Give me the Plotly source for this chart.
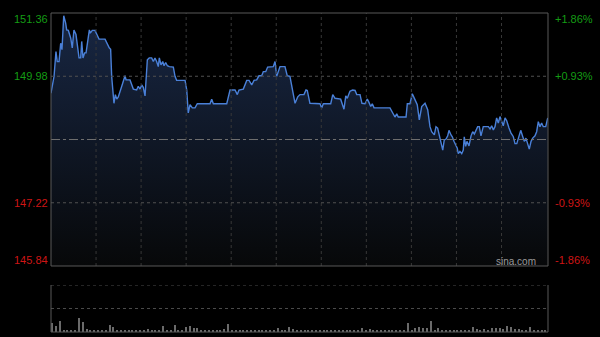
import plotly.graph_objects as go

# ---------------- data ----------------
times = [0, 2.4, 3.9, 4.9, 6.3, 7.6, 8.6, 10.0, 11.5, 12.3, 13.6, 15.5, 16.7, 18.0, 19.6, 20.6, 22.0, 23.3,
         24.1, 25.1, 26.4, 27.5, 28.8, 30.1, 30.8, 32.4, 34.5, 36.3, 37.7, 42.4, 43.7, 45.7, 46.8, 47.6,
         49.4, 50.5, 51.6, 52.8, 55.5, 58.1, 58.9, 62.0, 64.6, 67.2, 68.5, 69.9, 71.2, 72.4, 73.8, 75.6,
         77.1, 79.0, 80.3, 81.6, 82.9, 84.2, 85.0, 86.3, 87.7, 88.7, 90.0, 91.3, 92.8, 96.0, 97.3, 98.6,
         105.2, 106.5, 107.7, 109.1, 110.9, 113.0, 114.8, 124.8, 126.1, 127.4, 137.9, 140.5, 144.4, 146.2,
         147.5, 150.9, 153.6, 155.4, 157.5, 159.3, 161.4, 163.2, 165.3, 166.6, 168.5, 170.0, 174.4, 175.8,
         177.1, 179.7, 183.6, 185.4, 187.5, 189.3, 191.5, 193.6, 195.4, 198.5, 200.1, 201.1, 203.2, 211.1,
         212.4, 213.7, 219.5, 221.1, 222.9, 227.3, 228.9, 229.9, 231.3, 232.5, 234.6, 236.7, 238.6, 239.9,
         242.5, 244.0, 246.4, 248.2, 249.5, 250.9, 252.1, 253.5, 266.0, 268.1, 269.9, 271.3, 272.5, 278.6,
         279.6, 281.7, 283.5, 285.6, 287.4, 289.0, 290.9, 293.5, 295.6, 297.4, 298.7, 300.8, 302.1, 303.4,
         305.2, 306.0, 307.4, 308.6, 310.0, 311.3, 312.3, 313.9, 314.9, 316.2, 317.6, 318.8, 319.6, 320.9,
         322.3, 323.5, 324.3, 325.4, 326.4, 328.0, 329.6, 330.9, 332.2, 333.5, 334.8, 336.1, 337.4, 339.2,
         343.2, 344.5, 345.8, 347.1, 348.4, 349.7, 351.0, 352.3, 353.7, 354.9, 356.3, 357.6, 359.4, 361.0,
         362.8, 364.1, 365.5, 366.7, 368.6, 370.2, 371.4, 372.7, 374.1, 375.3, 376.7, 378.0, 379.8, 381.1,
         382.4, 383.7, 385.0, 386.3, 388.2, 389.8]

prices = [149.61, 149.98, 150.52, 150.30, 150.30, 150.70, 150.56, 151.30, 151.14, 150.99, 150.98, 150.81,
          150.60, 150.99, 150.89, 150.70, 150.38, 150.38, 150.74, 150.38, 150.49, 150.49, 150.74, 150.99,
          150.92, 150.98, 150.98, 150.89, 150.79, 150.79, 150.70, 150.60, 150.57, 149.98, 149.39, 149.58,
          149.48, 149.53, 149.76, 149.99, 149.90, 149.90, 149.70, 149.68, 149.76, 149.70, 149.79, 149.74,
          149.55, 150.34, 150.38, 150.38, 150.30, 150.38, 150.30, 150.19, 150.38, 150.23, 150.30, 150.21,
          150.28, 150.21, 150.19, 150.18, 149.98, 149.89, 149.89, 149.68, 149.18, 149.36, 149.29, 149.29,
          149.38, 149.38, 149.48, 149.38, 149.38, 149.68, 149.68, 149.58, 149.68, 149.70, 149.89, 149.89,
          149.79, 149.89, 149.90, 149.99, 149.99, 150.08, 150.08, 150.18, 150.19, 150.30, 149.98, 150.19,
          150.19, 149.99, 149.98, 149.68, 149.39, 149.53, 149.58, 149.58, 149.68, 149.67, 149.39, 149.38,
          149.29, 149.38, 149.38, 149.58, 149.50, 149.48, 149.36, 149.26, 149.55, 149.50, 149.65, 149.68,
          149.67, 149.58, 149.58, 149.39, 149.38, 149.48, 149.41, 149.32, 149.38, 149.29, 149.29, 149.18,
          149.09, 149.16, 149.09, 149.09, 149.38, 149.38, 149.60, 149.47, 149.36, 149.03, 149.32, 149.39,
          149.25, 148.88, 148.77, 148.70, 148.88, 148.85, 148.63, 148.59, 148.37, 148.59, 148.61, 148.68,
          148.80, 148.70, 148.66, 148.56, 148.48, 148.41, 148.29, 148.34, 148.29, 148.37, 148.66, 148.45,
          148.56, 148.46, 148.68, 148.77, 148.72, 148.81, 148.88, 148.88, 148.68, 148.88, 148.88, 148.83,
          148.90, 148.81, 148.88, 149.07, 148.96, 149.10, 148.97, 148.90, 149.07, 149.01, 148.85, 148.74,
          148.66, 148.51, 148.51, 148.61, 148.80, 148.66, 148.56, 148.63, 148.52, 148.39, 148.56, 148.63,
          148.68, 148.77, 148.99, 148.88, 148.96, 148.88, 148.88, 149.07]

# volume, one value per 3-minute bucket
volume = [11500, 8000, 14000, 2000, 1500, 2500, 1800, 18000, 12800, 3800,
          2000, 1800, 2200, 1500, 2000, 9000, 6400, 1800, 1500, 2000,
          1400, 1600, 1800, 1500, 2200, 3800, 2500, 3000, 1500, 7700,
          1800, 1500, 9000, 1800, 1500, 6400, 7700, 5500, 5500, 1800,
          1500, 1600, 1400, 1800, 1500, 3800, 10200, 1800, 1500, 1400,
          1600, 1800, 1500, 1400, 1600, 1500, 1800, 1400, 1500, 5100,
          1800, 1500, 6400, 3800, 1500, 1400, 1300, 2500, 1400, 1300,
          2500, 1400, 1300, 2500, 1400, 1300, 1500, 1400, 1300, 1500,
          1400, 5100, 1500, 3800, 1400, 1300, 1500, 1400, 1300, 1500,
          1400, 1300, 1600, 11500, 1800, 5100, 6400, 5100, 5100, 14000,
          2500, 5100, 2500, 2200, 2500, 2000, 2500, 2200, 2000, 1800,
          6400, 3800, 2500, 3800, 2000, 5100, 5100, 5100, 3800, 7700,
          6400, 3800, 3800, 2000, 2500, 6400, 2500, 2500, 2500, 2000]
volume_times = [3 * k + 1 for k in range(len(volume))]

prev_close = 148.60
price_ticks = [151.36, 149.98, 147.22, 145.84]
pct_labels = ["+1.86%", "+0.93%", "-0.93%", "-1.86%"]
vol_max = 60000

# ---------------- figure ----------------
GREEN = "#149c14"
RED = "#cf1515"
FONT = "Liberation Sans, Arial, sans-serif"
main_bottom = 0.2069
vol_top = 0.1473

fig = go.Figure()
fig.add_trace(go.Scatter(
    x=times, y=prices, mode="lines",
    line=dict(color="#4a80d8", width=1.4),
    fill="tozeroy",
    fillgradient=dict(type="vertical",
                      colorscale=[[0, "#070809"], [1, "#182744"]],
                      start=145.84, stop=151.36),
    hoverinfo="skip", xaxis="x", yaxis="y"))

fig.add_trace(go.Bar(
    x=volume_times, y=volume, width=0.9,
    marker=dict(color="#6a6a6a", line=dict(width=0)),
    hoverinfo="skip", xaxis="x2", yaxis="y2"))

fig.update_layout(
    width=600, height=337,
    margin=dict(l=51, r=52, t=13, b=5),
    paper_bgcolor="black", plot_bgcolor="black",
    showlegend=False,
    bargap=0,
    xaxis=dict(domain=[0, 1], range=[0, 390], showgrid=False, zeroline=False,
               showticklabels=False, showline=False, anchor="y"),
    yaxis=dict(domain=[main_bottom, 1], range=[145.84, 151.36], showgrid=False,
               zeroline=False, showticklabels=False, anchor="x"),
    xaxis2=dict(domain=[0, 1], range=[0, 390], showgrid=False, zeroline=False,
                showticklabels=False, anchor="y2"),
    yaxis2=dict(domain=[0, vol_top], range=[0, vol_max], showgrid=False,
                zeroline=False, showticklabels=False, anchor="x2"),
)

shapes = []
# vertical dotted gridlines in main panel
step = 35.35
for i in range(1, 11):
    shapes.append(dict(type="line", xref="x", yref="paper", x0=i * step, x1=i * step,
                       y0=main_bottom, y1=1, line=dict(color="#383838", width=1, dash="dot"),
                       layer="above"))
# horizontal dotted gridlines
for v in [149.98, 147.22]:
    shapes.append(dict(type="line", xref="paper", yref="y", x0=0, x1=1, y0=v, y1=v,
                       line=dict(color="#505050", width=1, dash="dot"), layer="above"))
# previous close line
shapes.append(dict(type="line", xref="paper", yref="y", x0=0, x1=1, y0=prev_close, y1=prev_close,
                   line=dict(color="#6e6e6e", width=1, dash="dashdot"), layer="above"))
# main border
shapes.append(dict(type="rect", xref="paper", yref="paper", x0=0, x1=1, y0=main_bottom, y1=1,
                   line=dict(color="#595959", width=1), layer="above"))
# volume panel
for yv in [vol_max, vol_max / 2]:
    shapes.append(dict(type="line", xref="paper", yref="y2", x0=0, x1=1, y0=yv, y1=yv,
                       line=dict(color="#4a4a4a", width=1, dash="dot"), layer="above"))
for xv in [0, 1]:
    shapes.append(dict(type="line", xref="paper", yref="paper", x0=xv, x1=xv, y0=0, y1=vol_top,
                       line=dict(color="#595959", width=1), layer="above"))
shapes.append(dict(type="line", xref="paper", yref="paper", x0=0, x1=1, y0=0, y1=0,
                   line=dict(color="#595959", width=1), layer="above"))
fig.update_layout(shapes=shapes)

annotations = []
shifts = [-6, 0, 0, 6]
for v, pct, s in zip(price_ticks, pct_labels, shifts):
    col = GREEN if v > prev_close else RED
    annotations.append(dict(xref="paper", yref="y", x=-0.002, y=v, yshift=s, text=f"{v:.2f}",
                            showarrow=False, xanchor="right", yanchor="middle",
                            font=dict(family=FONT, size=11, color=col)))
    annotations.append(dict(xref="paper", yref="y", x=1.0101, y=v, yshift=s, text=pct,
                            showarrow=False, xanchor="left", yanchor="middle",
                            font=dict(family=FONT, size=11, color=col)))
annotations.append(dict(xref="paper", yref="y", x=0.98, y=145.84, yshift=5, text="sina.com",
                        showarrow=False, xanchor="right", yanchor="middle",
                        font=dict(family=FONT, size=10, color="#9a9a9a")))
fig.update_layout(annotations=annotations)

fig.write_html("out.html")
